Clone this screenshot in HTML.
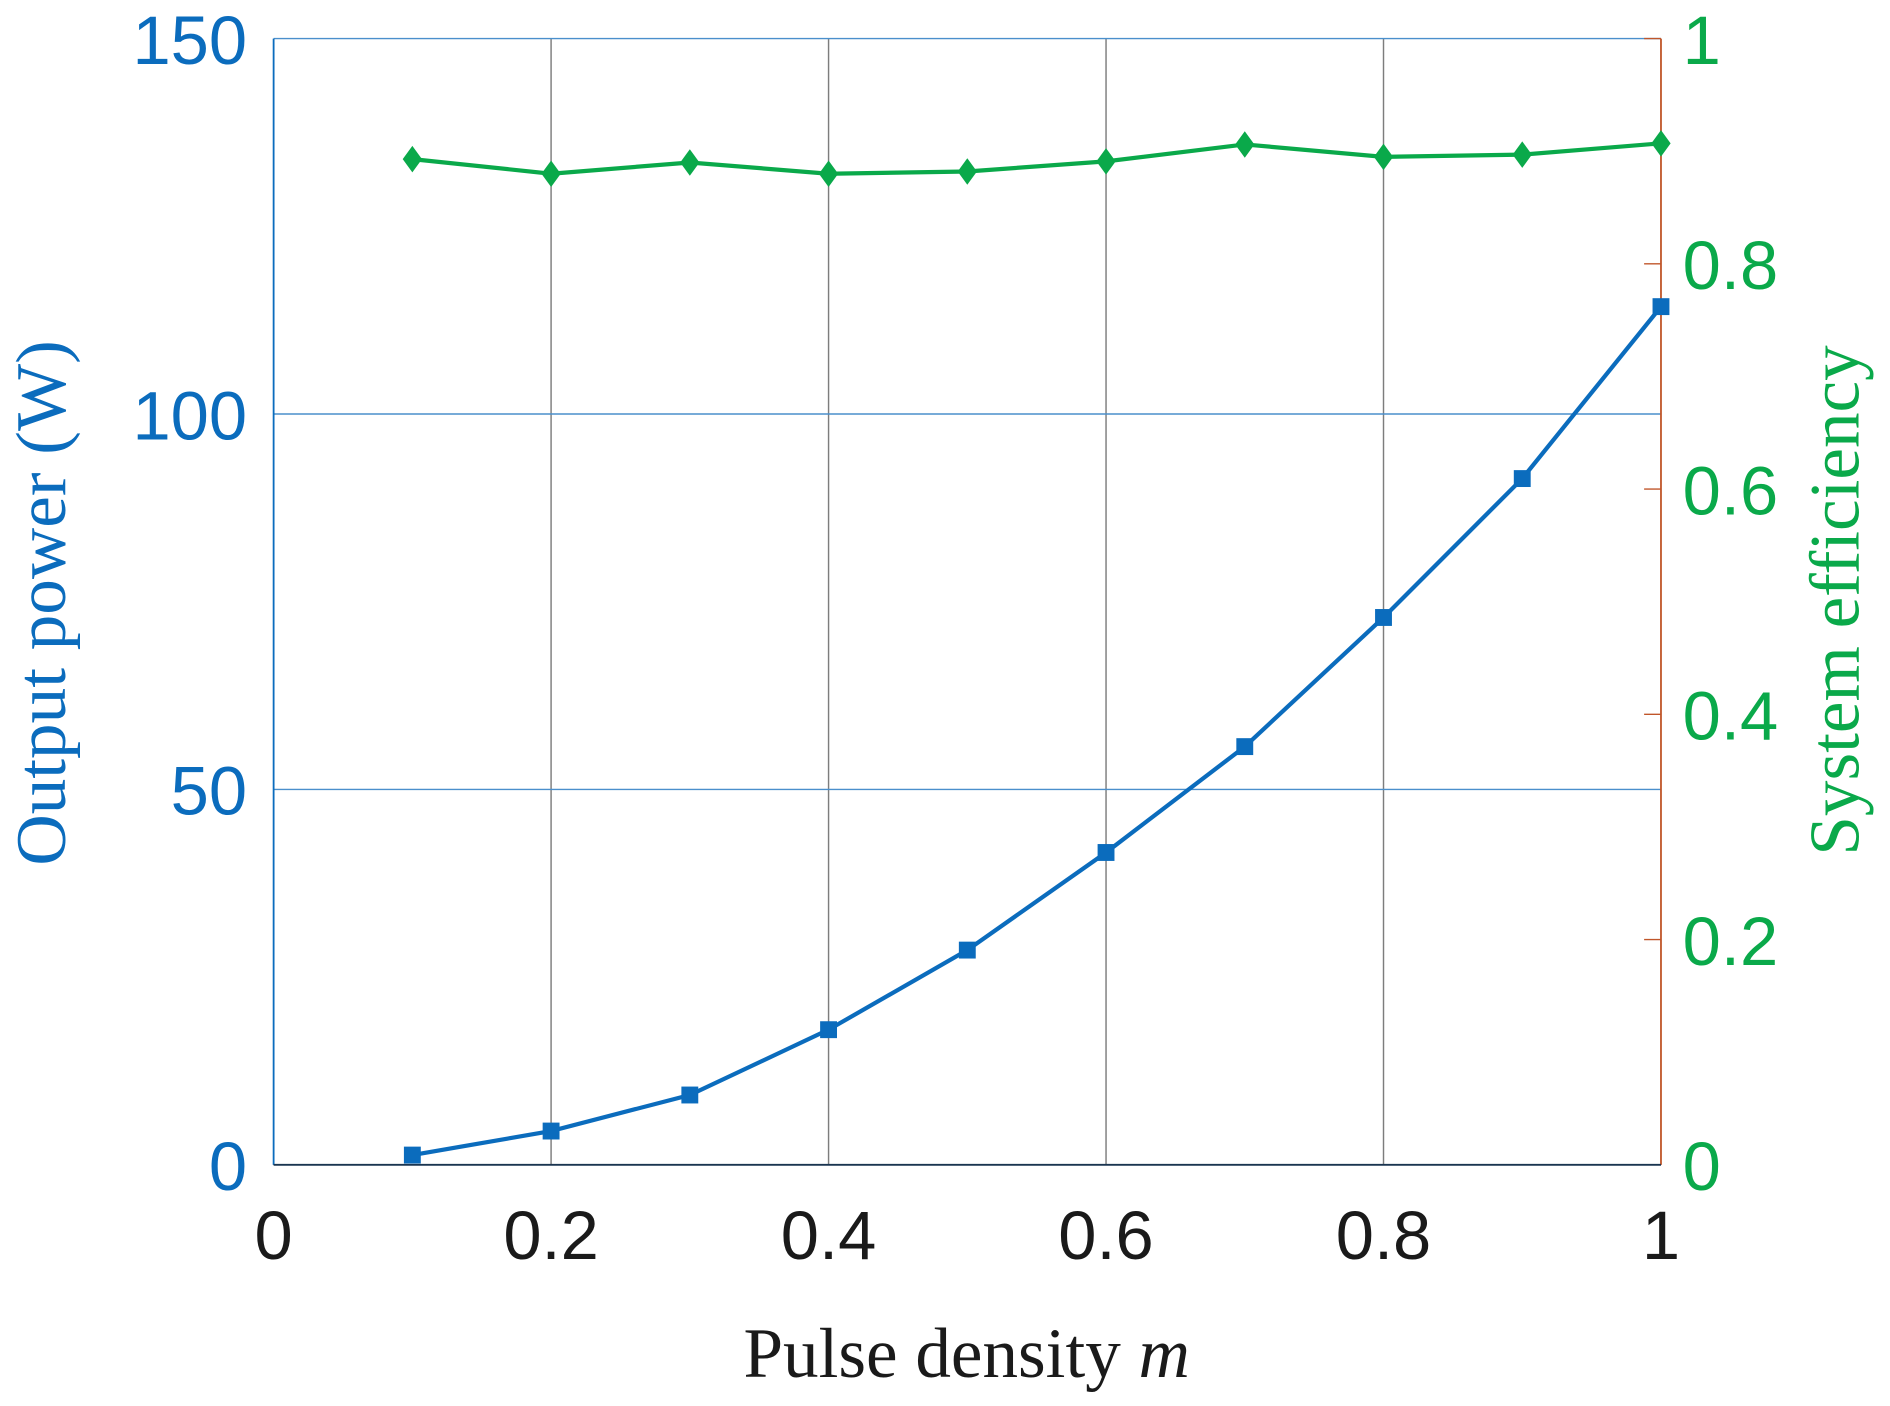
<!DOCTYPE html>
<html><head><meta charset="utf-8"><style>
html,body{margin:0;padding:0;background:#fff;}
svg{display:block;}
</style></head><body>
<svg id="chart" width="1890" height="1406" viewBox="0 0 1568 1166" preserveAspectRatio="none" xmlns="http://www.w3.org/2000/svg">
</svg>
<script>
const xValues = [0.1,0.2,0.3,0.4,0.5,0.6,0.7,0.8,0.9,1.0];
const powerValues = [1.3,4.5,9.3,18.0,28.6,41.6,55.7,72.9,91.4,114.3];
const efficiencyValues = [0.893,0.880,0.890,0.880,0.882,0.891,0.906,0.895,0.897,0.907];
const xTicks = [0,0.2,0.4,0.6,0.8,1];
const xTickLabels = ["0","0.2","0.4","0.6","0.8","1"];
const leftTicks = [0,50,100,150];
const leftTickLabels = ["0","50","100","150"];
const rightTicks = [0,0.2,0.4,0.6,0.8,1];
const rightTickLabels = ["0","0.2","0.4","0.6","0.8","1"];

const L=227,R=1378,T=32,B=966;
const xs = v => L + v*(R-L);
const yl = v => B - v/150*(B-T);
const yr = v => B - v*(B-T);
const svg = document.getElementById('chart');
const NS='http://www.w3.org/2000/svg';
function mk(tag, attrs, parent){
  const e=document.createElementNS(NS,tag);
  for(const k in attrs) e.setAttribute(k,attrs[k]);
  (parent||svg).appendChild(e); return e;
}
const BLUE='#0b6cbd', GREEN='#0aa94a', BROWN='#c0562a';

xTicks.forEach((t,i)=>{
  if(t>0 && t<1){
    const g=mk('line',{x1:xs(t),x2:xs(t),y1:T,y2:B,stroke:'#7d7d7d','stroke-width':1.2});
    
    
  }
  const tx=mk('text',{x:xs(t),y:1044,'text-anchor':'middle','font-family':'Liberation Sans, sans-serif','font-size':57,fill:'#1a1a1a'});
  tx.textContent=xTickLabels[i];
  
  
});
leftTicks.forEach((t,i)=>{
  if(t>0){
    const g=mk('line',{x1:L,x2:R,y1:yl(t),y2:yl(t),stroke:'#4a8fcc','stroke-width':1.2});
    
    
  }
  const tx=mk('text',{x:205,y:yl(t)+21,'text-anchor':'end','font-family':'Liberation Sans, sans-serif','font-size':57,fill:BLUE});
  tx.textContent=leftTickLabels[i];
  
  
});
rightTicks.forEach((t,i)=>{
  const tk=mk('line',{x1:R-14,x2:R,y1:yr(t),y2:yr(t),stroke:BROWN,'stroke-width':1.2});
  
  
  const tx=mk('text',{x:1396,y:yr(t)+21,'text-anchor':'start','font-family':'Liberation Sans, sans-serif','font-size':57,fill:GREEN});
  tx.textContent=rightTickLabels[i];
  
  
});
const la=mk('line',{x1:L,x2:L,y1:T,y2:B,stroke:BLUE,'stroke-width':1.5});


const ra=mk('line',{x1:R,x2:R,y1:T,y2:B,stroke:BROWN,'stroke-width':1.5});


const ba=mk('line',{x1:L,x2:R,y1:B,y2:B,stroke:'#1a3550','stroke-width':1.5});



const pp=mk('polyline',{points:xValues.map((x,i)=>xs(x)+','+yl(powerValues[i])).join(' '),fill:'none',stroke:BLUE,'stroke-width':3.5});


xValues.forEach((x,i)=>{
  const m=mk('rect',{x:xs(x)-7,y:yl(powerValues[i])-7,width:14,height:14,fill:BLUE});
  
  
});
const ep=mk('polyline',{points:xValues.map((x,i)=>xs(x)+','+yr(efficiencyValues[i])).join(' '),fill:'none',stroke:GREEN,'stroke-width':3.5});


xValues.forEach((x,i)=>{
  const cx=xs(x), cy=yr(efficiencyValues[i]);
  const m=mk('polygon',{points:`${cx},${cy-11} ${cx+8},${cy} ${cx},${cy+11} ${cx-8},${cy}`,fill:GREEN});
  
  
});

const xt=mk('text',{x:802,y:1142,'text-anchor':'middle','font-family':'Liberation Serif, serif','font-size':59,fill:'#1a1a1a'});
xt.innerHTML='Pulse density <tspan font-style="italic">m</tspan>';


const lt=mk('text',{x:0,y:0,transform:'translate(54,500) rotate(-90)','text-anchor':'middle','font-family':'Liberation Serif, serif','font-size':59,fill:BLUE});
lt.textContent='Output power (W)';


const rt=mk('text',{x:0,y:0,transform:'translate(1542,498) rotate(-90)','text-anchor':'middle','font-family':'Liberation Serif, serif','font-size':59,fill:GREEN});
rt.textContent='System efficiency';


</script>
</body></html>
